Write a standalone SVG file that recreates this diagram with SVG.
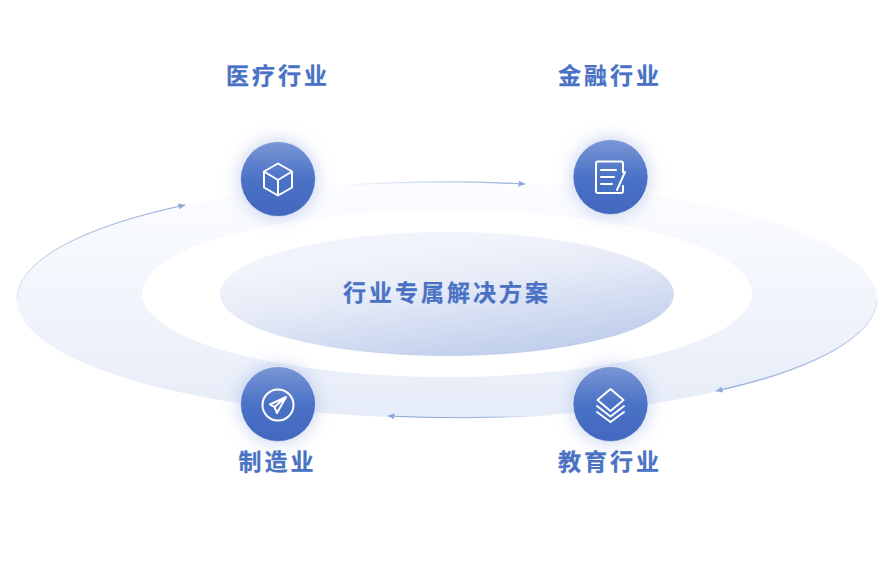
<svg xmlns="http://www.w3.org/2000/svg" width="896" height="582" viewBox="0 0 896 582">
<style>
.t{font-family:"Noto Sans CJK SC","Noto Sans",sans-serif;font-weight:700;font-size:23px;letter-spacing:3px;fill:#4a72c4;text-anchor:middle;stroke:#4a72c4;stroke-width:.25}
.ic{fill:none;stroke:#fff;stroke-width:2;stroke-linecap:round;stroke-linejoin:round}
.c{fill:url(#gc);stroke:#fff;stroke-opacity:.55;stroke-width:1}
.g{fill:#9fb4e2;fill-opacity:.5;filter:url(#bl)}
</style>
<defs>
<linearGradient id="gr" x1="0" y1="0" x2="0" y2="1"><stop offset="0" stop-color="#fcfdff"/><stop offset="1" stop-color="#e6ecf8"/></linearGradient>
<linearGradient id="gm" x1="0.3" y1="0.2" x2="0.7" y2="0.95"><stop offset="0" stop-color="#f1f4fb"/><stop offset=".35" stop-color="#e6ebf7"/><stop offset="1" stop-color="#c1cfec"/></linearGradient>
<linearGradient id="gc" x1="0" y1="0" x2="0" y2="1"><stop offset="0" stop-color="#7b97d6"/><stop offset="0.5" stop-color="#4a72c6"/><stop offset="1" stop-color="#4268bf"/></linearGradient>
<filter id="bl" x="-50%" y="-50%" width="200%" height="200%"><feGaussianBlur stdDeviation="8"/></filter>
<linearGradient id="s1" gradientUnits="userSpaceOnUse" x1="17" y1="300" x2="185" y2="205"><stop offset="0" stop-color="#8fa9d8" stop-opacity=".2"/><stop offset=".5" stop-color="#8fa9d8" stop-opacity=".8"/><stop offset="1" stop-color="#8fa9d8"/></linearGradient>
<linearGradient id="s2" gradientUnits="userSpaceOnUse" x1="340" y1="186" x2="525" y2="184"><stop offset="0" stop-color="#8fa9d8" stop-opacity="0"/><stop offset="1" stop-color="#8fa9d8"/></linearGradient>
<linearGradient id="s3" gradientUnits="userSpaceOnUse" x1="877" y1="300" x2="716" y2="391"><stop offset="0" stop-color="#8fa9d8" stop-opacity=".2"/><stop offset=".5" stop-color="#8fa9d8" stop-opacity=".8"/><stop offset="1" stop-color="#8fa9d8"/></linearGradient>
<linearGradient id="s4" gradientUnits="userSpaceOnUse" x1="560" y1="414" x2="388" y2="416"><stop offset="0" stop-color="#8fa9d8" stop-opacity="0"/><stop offset=".6" stop-color="#8fa9d8"/><stop offset="1" stop-color="#8fa9d8"/></linearGradient>
<marker id="a" markerWidth="8" markerHeight="6" refX="6.5" refY="3" orient="auto" markerUnits="userSpaceOnUse"><path d="M0 0L7 3L0 6Z" fill="#8fa9d8"/></marker>
</defs>
<rect width="896" height="582" fill="#fff"/>
<g id="rings">
<ellipse cx="447" cy="299.5" rx="430" ry="118.5" fill="url(#gr)"/>
<ellipse cx="447" cy="293.5" rx="305" ry="83.5" fill="#fff"/>
</g>
<g id="connectors" fill="none" stroke-width="1.2">
<path stroke="url(#s1)" marker-end="url(#a)" d="M17 299.5A430 118.5 0 0 1 185 205"/>
<path stroke="url(#s2)" marker-end="url(#a)" d="M340 185.500A430 118.500 0 0 1 525 184"/>
<path stroke="url(#s3)" marker-end="url(#a)" d="M877 299.5A430 118.5 0 0 1 716 391"/>
<path stroke="url(#s4)" marker-end="url(#a)" d="M560 414.500A430 118.500 0 0 1 388 416"/>
</g>
<g id="center">
<ellipse cx="447" cy="294" rx="227" ry="62" fill="url(#gm)"/>
<text class="t" x="447" y="301">行业专属解决方案</text>
</g>
<g id="node-medical">
<text class="t" x="278" y="84">医疗行业</text>
<circle class="g" cx="278" cy="179" r="40"/>
<circle class="c" cx="278" cy="179" r="37.500"/>
<path class="ic" d="M278 163.500L292 171.500V187.500L278 195.500L264 187.500V171.500ZM264 171.500L278 180L292 171.500M278 180V195.500"/>
</g>
<g id="node-finance">
<text class="t" x="610" y="84">金融行业</text>
<circle class="g" cx="610.500" cy="177" r="40"/>
<circle class="c" cx="610.500" cy="177" r="37.500"/>
<path class="ic" d="M623 172V163.500Q623 161.500 621 161.500H598Q596 161.500 596 163.500V191Q596 193 598 193H621Q623 193 623 191V186M601 170H616M601 177H614M601 184H612M625 172L617 190"/>
</g>
<g id="node-manufacturing">
<circle class="g" cx="278" cy="404" r="40"/>
<circle class="c" cx="278" cy="404" r="37.500"/>
<circle class="ic" cx="278" cy="405" r="15.500"/>
<path class="ic" d="M286 397L270 404.500L274.500 407L277 413ZM286 397L274.500 407"/>
<text class="t" x="277.500" y="470">制造业</text>
</g>
<g id="node-education">
<circle class="g" cx="610.500" cy="404" r="40"/>
<circle class="c" cx="610.500" cy="404" r="37.500"/>
<path class="ic" d="M610.500 389L623.500 400L610.500 411L597.500 400ZM597 406L610.500 416.500L624 406M597 412L610.500 422L624 412"/>
<text class="t" x="610" y="470">教育行业</text>
</g>
</svg>
